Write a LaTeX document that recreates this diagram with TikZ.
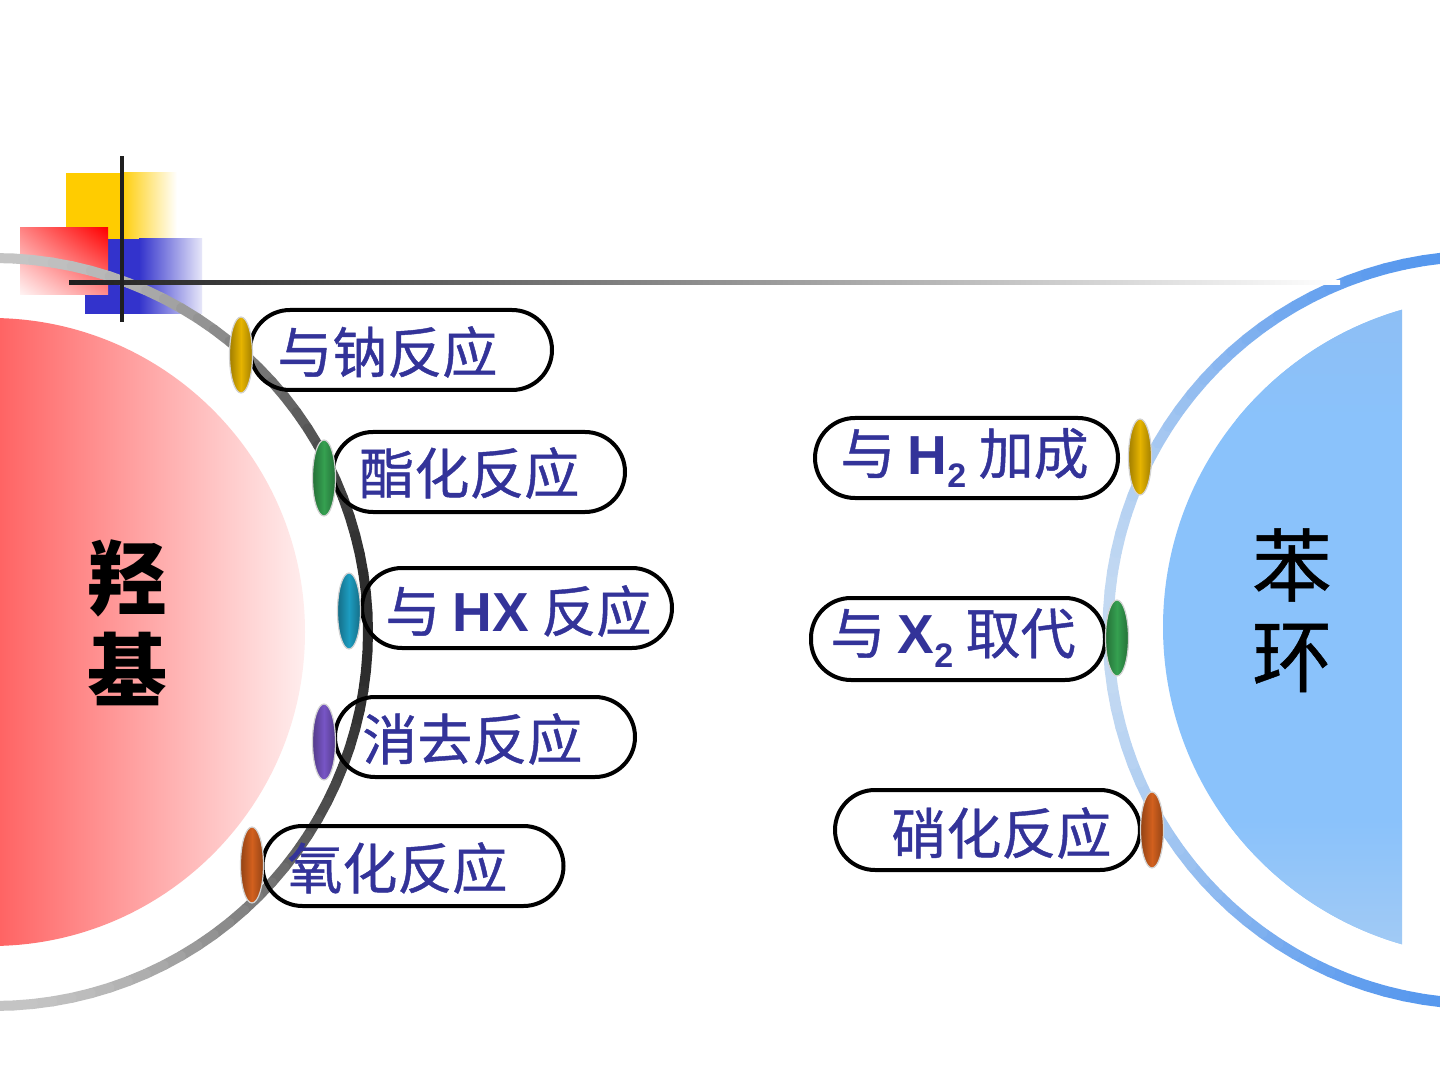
\documentclass[tikz,border=0pt]{standalone}
\usepackage{fontspec}
\newfontfamily\cjk{Noto Sans CJK SC}[FakeBold=0.8]
\newfontfamily\cjkt{Noto Sans CJK SC}
\newfontfamily\cjkr{Noto Sans CJK SC}[FakeBold=0.6]
\newfontfamily\lat{Liberation Sans}
\usetikzlibrary{calc,shapes.geometric,shadings}
\definecolor{txtblue}{HTML}{333399}
\definecolor{arcdark}{HTML}{2A2A2A}
\definecolor{arclight}{HTML}{C4C4C4}
\definecolor{bdark}{HTML}{5597EE}
\definecolor{blight}{HTML}{C4DAF2}
\definecolor{diskblue}{HTML}{8AC2FB}
\definecolor{disktop}{HTML}{8EBEF4}
\definecolor{diskbot}{HTML}{A4CBF4}
\definecolor{diskred}{HTML}{FF6464}
\definecolor{yel}{HTML}{FFCC00}
\definecolor{blu}{HTML}{3333CC}
\definecolor{byel}{HTML}{E6B400}
\definecolor{bgrn}{HTML}{35A050}
\definecolor{bteal}{HTML}{1D9CC0}
\definecolor{bpur}{HTML}{7755C5}
\definecolor{bora}{HTML}{D2601E}
\begin{document}
\begin{tikzpicture}[x=0.5pt,y=-0.5pt,
  pill/.style={draw=black, line width=2pt, rounded corners=20pt, minimum height=40pt, inner sep=0pt},
  lbl/.style={anchor=west, inner sep=0pt, text=txtblue, font=\cjk\fontsize{27.5}{30}\selectfont},
  bead/.style={ellipse, minimum width=11.5pt, minimum height=38pt, inner sep=0pt, draw=gray!35, line width=0.6pt,
     left color=#1!70!black, right color=#1!70!black, middle color=#1},
  bigchar/.style={inner sep=0pt, font=\cjkr\fontsize{40}{40}\selectfont}]
\useasboundingbox (0,0) rectangle (1440,1080);
\clip (0,0) rectangle (1440,1080);
\fill[white] (0,0) rectangle (1440,1080);
\coordinate (rc) at (-9,632);
\coordinate (gc) at (-6,632);
\coordinate (bc) at (1493,627);
\coordinate (ac) at (1482,630);
% top-left decoration
\fill[yel] (66,173) rectangle (121,239);
\shade[left color=yel, right color=white] (120,173) rectangle (177,239);
\fill[blu] (85,239) rectangle (140,314);
\shade[left color=blu, right color=blu!12] (139,239) rectangle (202,314);
\shade[upper left=diskred!80, upper right=red, lower left=red!4, lower right=red!45] (20,228) rectangle (108,295);
% red disk
\begin{scope}
\clip (rc) circle (314);
\shade[left color=diskred, right color=red!6] (0,300) rectangle (310,960);
\end{scope}
% blue disk
\begin{scope}
\clip (bc) circle (330);
\fill[diskblue] (1160,295) rectangle (1402,960);
\shade[top color=disktop, bottom color=diskblue] (1160,295) rectangle (1402,420);
\shade[top color=diskblue, bottom color=diskbot] (1160,820) rectangle (1402,960);
\end{scope}
% gray arc
\foreach \a in {-96,-93,...,93}{
  \pgfmathsetmacro\b{\a+3}
  \pgfmathtruncatemacro\k{100*cos(\a+1.5)^2}
  \draw[line width=5pt, line cap=round, color=arcdark!\k!arclight] ([shift={(\a:374)}]gc) -- ([shift={(\b:374)}]gc);
}
% blue arc
\foreach \a in {93,96,...,264}{
  \pgfmathsetmacro\b{\a+3}
  \pgfmathtruncatemacro\k{100*cos(\a+1.5-180)^2}
  \draw[line width=5.5pt, line cap=round, color=blight!\k!bdark] ([shift={(\a:374)}]ac) -- ([shift={(\b:374)}]ac);
}
% lines
\shade[left color=black!88, middle color=gray!75, right color=white] (69,281) rectangle (1340,285);
\fill[black!88] (120,156) rectangle (124,322);
% pills
\node[pill, minimum width=151pt] (p1) at (401,350) {};
\node[pill, minimum width=146pt] (p2) at (479,472) {};
\node[pill, minimum width=155pt] (p3) at (517,608) {};
\node[pill, minimum width=150pt] (p4) at (485,737) {};
\node[pill, minimum width=150.5pt] (p5) at (413,866) {};
\node[pill, minimum width=151.5pt] (p6) at (966.5,458) {};
\node[pill, minimum width=147pt, minimum height=41pt] (p7) at (958,639) {};
\node[pill, minimum width=152.5pt] (p8) at (987.5,830) {};
% beads
\node[bead=byel] (d1) at (241,355) {};
\node[bead=bgrn] (d2) at (324,478) {};
\node[bead=bteal] (d3) at (349,611) {};
\node[bead=bpur] (d4) at (324,742) {};
\node[bead=bora] (d5) at (252,865) {};
\node[bead=byel] (d6) at (1140,457) {};
\node[bead=bgrn] (d7) at (1117,638) {};
\node[bead=bora] (d8) at (1152,830) {};
% labels
\node[lbl] (t1) at (277,352) {与钠反应};
\node[lbl] (t2) at (359,473) {酯化反应};
\node[lbl] (t3) at (385,611) {与 {\lat\bfseries HX} 反应};
\node[lbl] (t4) at (362,739) {消去反应};
\node[lbl] (t5) at (287,868) {氧化反应};
\node[lbl] (t6) at (840,458) {与 {\lat\bfseries H\raisebox{-0.25em}{\fontsize{17}{17}\selectfont 2}} 加成};
\node[lbl] (t7) at (830,638) {与 {\lat\bfseries X\raisebox{-0.25em}{\fontsize{17}{17}\selectfont 2}} 取代};
\node[lbl] (t8) at (891,833) {硝化反应};
% big characters
\node[bigchar, font=\cjkt\bfseries\fontsize{40}{40}\selectfont] (q1) at (127,578) {羟};
\node[bigchar, font=\cjkt\bfseries\fontsize{40}{40}\selectfont] (q2) at (127,669) {基};
\node[bigchar] (r1) at (1292,565) {苯};
\node[bigchar] (r2) at (1292,658) {环};
\end{tikzpicture}
\end{document}
